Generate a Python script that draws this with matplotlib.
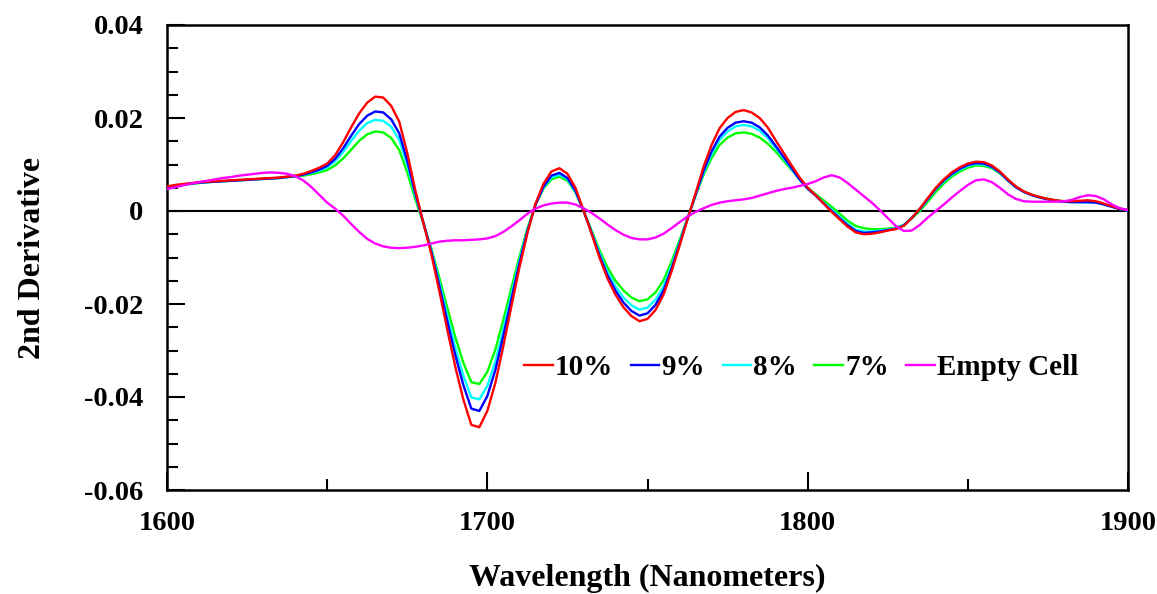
import numpy as np
import matplotlib
matplotlib.use("Agg")
import matplotlib.pyplot as plt
from matplotlib.ticker import MultipleLocator, FuncFormatter

wavelength = np.arange(1600, 1902.5, 2.5)

pct10 = [0.0053, 0.0056, 0.0058, 0.0060, 0.0062, 0.0063, 0.0064, 0.0065, 0.0066, 0.0067,
         0.0068, 0.0069, 0.0070, 0.0071, 0.0072, 0.0074, 0.0076, 0.0080, 0.0086, 0.0093,
         0.0102, 0.0120, 0.0148, 0.0180, 0.0210, 0.0233, 0.0246, 0.0244, 0.0226, 0.0192,
         0.0125, 0.0045, -0.0025, -0.0092, -0.0172, -0.0255, -0.0335, -0.0405, -0.0460, -0.0465,
         -0.0430, -0.0370, -0.0290, -0.0205, -0.0122, -0.0048, 0.0015, 0.0058, 0.0085, 0.0092,
         0.0080, 0.0050, 0.0002, -0.0048, -0.0100, -0.0145, -0.0180, -0.0207, -0.0226, -0.0237,
         -0.0232, -0.0213, -0.0180, -0.0130, -0.0075, -0.0018, 0.0038, 0.0095, 0.0142, 0.0178,
         0.0200, 0.0213, 0.0217, 0.0212, 0.0200, 0.0180, 0.0152, 0.0125, 0.0098, 0.0072,
         0.0050, 0.0034, 0.0016, -0.0002, -0.0018, -0.0034, -0.0046, -0.0050, -0.0049, -0.0046,
         -0.0042, -0.0039, -0.0032, -0.0015, 0.0005, 0.0028, 0.0050, 0.0068, 0.0083, 0.0094,
         0.0102, 0.0106, 0.0105, 0.0098, 0.0085, 0.0068, 0.0053, 0.0042, 0.0035, 0.0030,
         0.0026, 0.0023, 0.0021, 0.0021, 0.0022, 0.0023, 0.0021, 0.0016, 0.0010, 0.0005,
         0.0002]

pct9 = [0.0051, 0.0054, 0.0057, 0.0059, 0.0061, 0.0062, 0.0063, 0.0064, 0.0065, 0.0066,
        0.0067, 0.0068, 0.0069, 0.0070, 0.0071, 0.0073, 0.0075, 0.0078, 0.0083, 0.0089,
        0.0097, 0.0112, 0.0135, 0.0162, 0.0187, 0.0205, 0.0214, 0.0212, 0.0197, 0.0167,
        0.0108, 0.0038, -0.0024, -0.0087, -0.0160, -0.0237, -0.0310, -0.0374, -0.0425, -0.0430,
        -0.0398, -0.0342, -0.0268, -0.0190, -0.0113, -0.0044, 0.0013, 0.0052, 0.0076, 0.0082,
        0.0071, 0.0044, 0.0001, -0.0046, -0.0095, -0.0138, -0.0171, -0.0197, -0.0215, -0.0225,
        -0.0220, -0.0202, -0.0171, -0.0124, -0.0071, -0.0017, 0.0035, 0.0086, 0.0128, 0.0160,
        0.0179, 0.0190, 0.0193, 0.0190, 0.0180, 0.0163, 0.0140, 0.0116, 0.0092, 0.0068,
        0.0048, 0.0033, 0.0016, 0.0000, -0.0016, -0.0031, -0.0043, -0.0047, -0.0046, -0.0044,
        -0.0041, -0.0038, -0.0031, -0.0015, 0.0004, 0.0026, 0.0048, 0.0066, 0.0080, 0.0091,
        0.0099, 0.0103, 0.0102, 0.0095, 0.0083, 0.0066, 0.0051, 0.0041, 0.0034, 0.0029,
        0.0025, 0.0022, 0.0020, 0.0019, 0.0019, 0.0019, 0.0018, 0.0014, 0.0009, 0.0004,
        0.0001]

pct8 = [0.0051, 0.0054, 0.0057, 0.0059, 0.0061, 0.0062, 0.0063, 0.0064, 0.0065, 0.0066,
        0.0067, 0.0068, 0.0069, 0.0070, 0.0071, 0.0073, 0.0075, 0.0078, 0.0082, 0.0087,
        0.0094, 0.0107, 0.0127, 0.0151, 0.0173, 0.0189, 0.0196, 0.0194, 0.0181, 0.0153,
        0.0099, 0.0034, -0.0024, -0.0084, -0.0153, -0.0225, -0.0294, -0.0354, -0.0401, -0.0405,
        -0.0376, -0.0324, -0.0254, -0.0180, -0.0107, -0.0041, 0.0013, 0.0050, 0.0072, 0.0078,
        0.0068, 0.0042, 0.0001, -0.0044, -0.0090, -0.0131, -0.0162, -0.0186, -0.0203, -0.0212,
        -0.0208, -0.0191, -0.0162, -0.0118, -0.0068, -0.0016, 0.0034, 0.0082, 0.0122, 0.0153,
        0.0171, 0.0182, 0.0185, 0.0182, 0.0173, 0.0157, 0.0136, 0.0113, 0.0090, 0.0067,
        0.0048, 0.0034, 0.0018, 0.0003, -0.0013, -0.0028, -0.0040, -0.0044, -0.0044, -0.0042,
        -0.0040, -0.0037, -0.0030, -0.0014, 0.0004, 0.0025, 0.0047, 0.0064, 0.0078, 0.0089,
        0.0097, 0.0101, 0.0100, 0.0094, 0.0082, 0.0066, 0.0051, 0.0041, 0.0034, 0.0029,
        0.0025, 0.0022, 0.0020, 0.0019, 0.0019, 0.0019, 0.0018, 0.0014, 0.0009, 0.0004,
        0.0001]

pct7 = [0.0050, 0.0053, 0.0056, 0.0058, 0.0060, 0.0062, 0.0063, 0.0064, 0.0065, 0.0066,
        0.0067, 0.0068, 0.0069, 0.0070, 0.0071, 0.0073, 0.0074, 0.0076, 0.0079, 0.0083,
        0.0088, 0.0098, 0.0113, 0.0132, 0.0151, 0.0165, 0.0171, 0.0169, 0.0157, 0.0131,
        0.0083, 0.0026, -0.0026, -0.0081, -0.0143, -0.0208, -0.0271, -0.0326, -0.0368, -0.0372,
        -0.0346, -0.0298, -0.0234, -0.0166, -0.0099, -0.0038, 0.0013, 0.0048, 0.0068, 0.0074,
        0.0065, 0.0040, 0.0001, -0.0041, -0.0084, -0.0121, -0.0150, -0.0171, -0.0186, -0.0194,
        -0.0190, -0.0175, -0.0149, -0.0109, -0.0063, -0.0015, 0.0033, 0.0078, 0.0114, 0.0142,
        0.0158, 0.0167, 0.0169, 0.0166, 0.0158, 0.0145, 0.0128, 0.0108, 0.0088, 0.0068,
        0.0050, 0.0036, 0.0023, 0.0009, -0.0006, -0.0021, -0.0032, -0.0037, -0.0039, -0.0039,
        -0.0038, -0.0036, -0.0030, -0.0016, 0.0000, 0.0020, 0.0041, 0.0059, 0.0074, 0.0085,
        0.0093, 0.0098, 0.0097, 0.0092, 0.0081, 0.0066, 0.0052, 0.0042, 0.0035, 0.0030,
        0.0026, 0.0023, 0.0021, 0.0020, 0.0020, 0.0020, 0.0019, 0.0015, 0.0010, 0.0005,
        0.0002]

empty_cell = [0.0047, 0.0051, 0.0055, 0.0059, 0.0062, 0.0065, 0.0068, 0.0071, 0.0073, 0.0076,
              0.0078, 0.0080, 0.0082, 0.0083, 0.0082, 0.0080, 0.0075, 0.0066, 0.0052, 0.0035,
              0.0018, 0.0005, -0.0010, -0.0028, -0.0045, -0.0060, -0.0070, -0.0076, -0.0079, -0.0080,
              -0.0079, -0.0077, -0.0074, -0.0070, -0.0066, -0.0064, -0.0063, -0.0063, -0.0062, -0.0061,
              -0.0059, -0.0054, -0.0045, -0.0033, -0.0020, -0.0006, 0.0005, 0.0012, 0.0016, 0.0018,
              0.0018, 0.0014, 0.0006, -0.0004, -0.0016, -0.0029, -0.0041, -0.0051, -0.0058, -0.0061,
              -0.0061, -0.0057, -0.0049, -0.0037, -0.0024, -0.0012, -0.0002, 0.0006, 0.0013, 0.0018,
              0.0021, 0.0023, 0.0025, 0.0028, 0.0033, 0.0038, 0.0043, 0.0047, 0.0050, 0.0054,
              0.0058, 0.0064, 0.0072, 0.0077, 0.0072, 0.0060, 0.0046, 0.0032, 0.0018, 0.0002,
              -0.0015, -0.0032, -0.0043, -0.0042, -0.0030, -0.0014, 0.0000, 0.0014, 0.0029, 0.0043,
              0.0056, 0.0066, 0.0068, 0.0062, 0.0050, 0.0036, 0.0026, 0.0021, 0.0020, 0.0020,
              0.0020, 0.0020, 0.0021, 0.0024, 0.0030, 0.0034, 0.0032, 0.0025, 0.0014, 0.0006,
              0.0002]

series_labels = ["10%", "9%", "8%", "7%", "Empty Cell"]
series_colors = ["#ff0000", "#0000ff", "#00ffff", "#00ff00", "#ff00ff"]
x_ticks = [1600, 1700, 1800, 1900]
y_ticks = [-0.06, -0.04, -0.02, 0, 0.02, 0.04]

plt.rcParams['font.family'] = ['Liberation Serif', 'DejaVu Serif']
plt.rcParams['font.weight'] = 'bold'

fig = plt.figure(figsize=(11.57, 5.94), dpi=100)
ax = fig.add_axes([167/1157, 1 - 490/594, (1128 - 167)/1157, (490 - 25)/594])

ax.axhline(0, color='black', lw=1.5, zorder=1)

all_series = [pct10, pct9, pct8, pct7, empty_cell]
zorders = [6, 5, 4, 3, 7]
for vals, lab, col, z in zip(all_series, series_labels, series_colors, zorders):
    ax.plot(wavelength, vals, color=col, lw=1.7, label=lab, zorder=z)

ax.set_xlim(1600, 1900)
ax.set_ylim(-0.06, 0.04)
ax.set_xticks(x_ticks)
ax.set_yticks(y_ticks)
ax.xaxis.set_minor_locator(MultipleLocator(50))
ax.yaxis.set_minor_locator(MultipleLocator(0.005))

def yfmt(v, pos):
    if abs(v) < 1e-9:
        return "0"
    return ("%.2f" % v)
ax.yaxis.set_major_formatter(FuncFormatter(yfmt))

ax.tick_params(axis='both', which='major', direction='in', length=13, width=1.5,
               labelsize=20.5)
ax.tick_params(axis='both', which='minor', direction='in', length=8, width=1.5)
ax.tick_params(axis='x', which='major', pad=15)
ax.tick_params(axis='y', which='major', pad=17)
for lab in ax.get_xticklabels() + ax.get_yticklabels():
    lab.set_fontweight('bold')
for sp in ax.spines.values():
    sp.set_linewidth(1.8)

ax.set_xlabel("Wavelength (Nanometers)", fontsize=23, fontweight='bold', labelpad=20)
ax.set_ylabel("2nd Derivative", fontsize=23, fontweight='bold', labelpad=27)

leg = ax.legend(loc='center', bbox_to_anchor=(0.660, 0.263), ncol=5, frameon=False,
                handlelength=0.97, handletextpad=0.08, columnspacing=0.6,
                prop={'weight': 'bold', 'size': 21})

fig.savefig("out.png", dpi=100)
